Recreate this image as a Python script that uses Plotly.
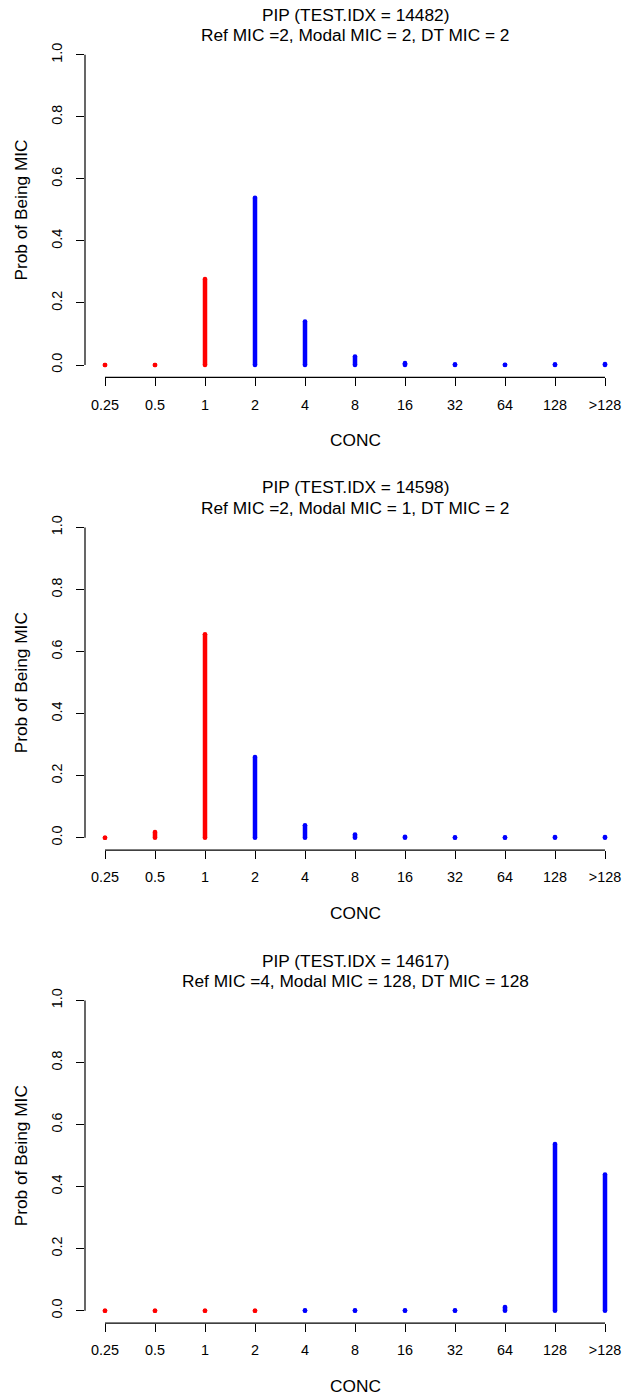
import plotly.graph_objects as go

# ---- data ----
conc_labels = ["0.25", "0.5", "1", "2", "4", "8", "16", "32", "64", "128", ">128"]
y_tick_vals = [0.0, 0.2, 0.4, 0.6, 0.8, 1.0]
y_tick_text = ["0.0", "0.2", "0.4", "0.6", "0.8", "1.0"]

test_idx = [14482, 14598, 14617]
ref_mic = ["2", "2", "4"]
modal_mic = ["2", "1", "128"]
dt_mic = ["2", "2", "128"]

prob_14482 = [0.0, 0.0, 0.277, 0.539, 0.140, 0.027, 0.006, 0.002, 0.001, 0.002, 0.003]
prob_14598 = [0.0, 0.018, 0.656, 0.260, 0.040, 0.010, 0.003, 0.001, 0.001, 0.002, 0.002]
prob_14617 = [0.0, 0.0, 0.0, 0.0, 0.001, 0.001, 0.001, 0.001, 0.012, 0.537, 0.439]
probs = [prob_14482, prob_14598, prob_14617]

# ---- layout geometry (pixels) ----
W, H = 627, 1397
zero_px = [365.0, 837.7, 1310.7]   # pixel row of y=0 in each panel
unit_px = 310.2                      # pixels per 1.0 probability
x_left, x_right = 85.0, 625.0
FONT = "Liberation Sans, Arial, Helvetica, sans-serif"
RED, BLUE = "#FF0000", "#0000FF"

fig = go.Figure()
layout = dict(
    width=W, height=H,
    margin=dict(l=0, r=0, t=0, b=0),
    paper_bgcolor="white", plot_bgcolor="white",
    showlegend=False,
    font=dict(family=FONT, size=14.4, color="black"),
    annotations=[], shapes=[],
)

def py(p):
    return 1 - p / H

for k in range(3):
    xa = "x" if k == 0 else f"x{k+1}"
    ya = "y" if k == 0 else f"y{k+1}"
    xkey = "xaxis" if k == 0 else f"xaxis{k+1}"
    ykey = "yaxis" if k == 0 else f"yaxis{k+1}"
    b = zero_px[k]
    top = b - 1.04 * unit_px
    bot = b + 0.04 * unit_px

    ref_pos = conc_labels.index(ref_mic[k])
    for color, sel in ((RED, lambda i: i < ref_pos), (BLUE, lambda i: i >= ref_pos)):
        xs, ys = [], []
        for i, v in enumerate(probs[k]):
            if sel(i):
                xs += [i + 1, i + 1, None]
                ys += [0, v, None]
        fig.add_trace(go.Scatter(
            x=xs, y=ys, xaxis=xa, yaxis=ya, mode="lines+markers",
            line=dict(color=color, width=4.5),
            marker=dict(color=color, size=4.6, line=dict(width=0)),
            hoverinfo="skip", connectgaps=False,
        ))

    layout[xkey] = dict(
        domain=[x_left / W, x_right / W], range=[0.6, 11.4],
        tickvals=list(range(1, len(conc_labels) + 1)), ticktext=conc_labels,
        ticks="outside", ticklen=8, tickwidth=1, tickcolor="black",
        showline=False, showgrid=False, zeroline=False,
        tickfont=dict(family=FONT, size=14.4, color="black"),
        ticklabelstandoff=6, anchor=ya, fixedrange=True,
    )
    layout[ykey] = dict(
        domain=[py(bot), py(top)], range=[-0.04, 1.04],
        tickvals=y_tick_vals, ticktext=y_tick_text, tickangle=-90,
        ticks="outside", ticklen=8, tickwidth=1, tickcolor="black",
        showline=False, showgrid=False, zeroline=False,
        tickfont=dict(family=FONT, size=14.4, color="black"),
        ticklabelstandoff=8, anchor=xa, fixedrange=True,
    )
    # axis lines spanning first..last tick (R style)
    layout["shapes"].append(dict(
        type="line", xref=xa, yref=f"{ya} domain",
        x0=1, x1=len(conc_labels), y0=0, y1=0,
        line=dict(color="black", width=1.2)))
    layout["shapes"].append(dict(
        type="line", xref=f"{xa} domain", yref=ya,
        x0=0, x1=0, y0=y_tick_vals[0], y1=y_tick_vals[-1],
        line=dict(color="black", width=1.2)))

    # titles
    line1 = f"PIP (TEST.IDX = {test_idx[k]})"
    line2 = f"Ref MIC ={ref_mic[k]}, Modal MIC = {modal_mic[k]}, DT MIC = {dt_mic[k]}"
    one_px = b - unit_px
    for txt, yy in ((line1, one_px - 40), (line2, one_px - 19.5)):
        layout["annotations"].append(dict(
            text=txt, xref=f"{xa} domain", x=0.5, yref="paper", y=py(yy),
            xanchor="center", yanchor="middle", showarrow=False,
            font=dict(family=FONT, size=17.3, color="black")))
    # axis titles
    layout["annotations"].append(dict(
        text="CONC", xref=f"{xa} domain", x=0.5, yref="paper", y=py(bot + 62.6),
        xanchor="center", yanchor="middle", showarrow=False,
        font=dict(family=FONT, size=17.3, color="black")))
    layout["annotations"].append(dict(
        text="Prob of Being MIC", xref="paper", x=20.7 / W, yref="paper",
        y=py(b - 0.5 * unit_px), xanchor="center", yanchor="middle",
        textangle=-90, showarrow=False,
        font=dict(family=FONT, size=17.3, color="black")))

fig.update_layout(**layout)
fig.write_html(
    "out.html",
    config={"displayModeBar": False, "staticPlot": True},
    post_script="document.body.style.margin='0';document.body.style.padding='0';"
                "document.body.style.overflow='hidden';"
                "document.documentElement.style.overflow='hidden';",
)
